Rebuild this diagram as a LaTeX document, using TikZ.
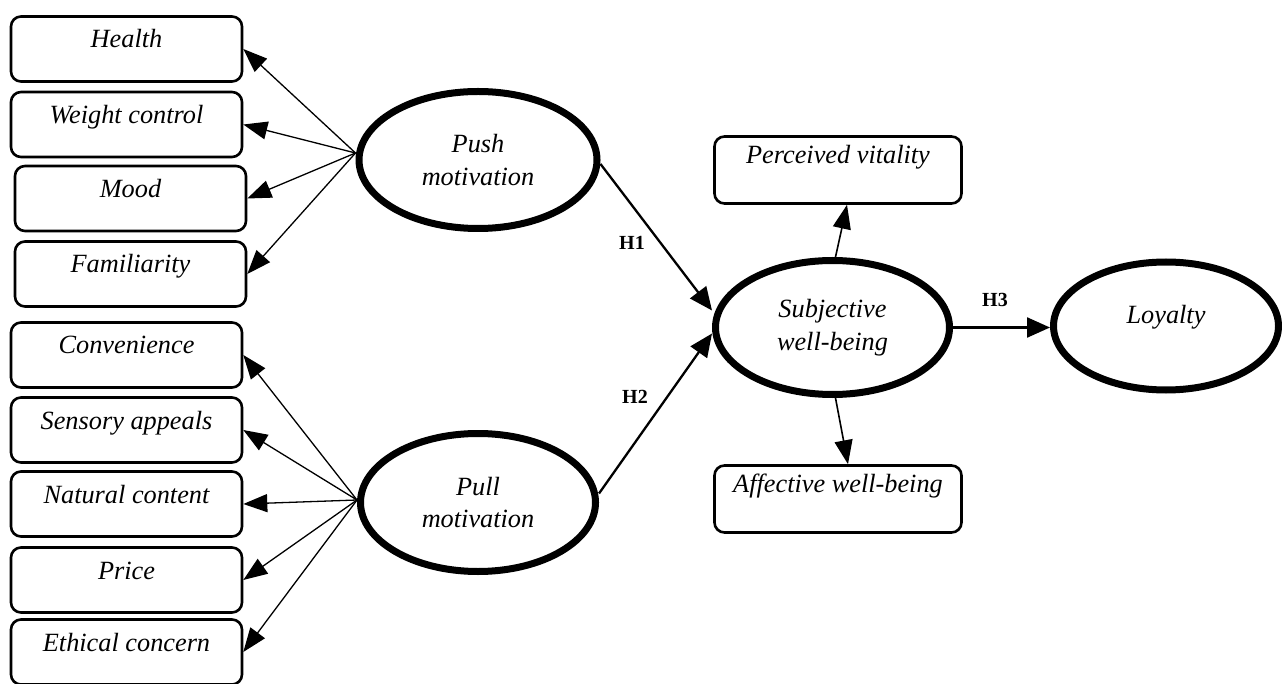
\documentclass[tikz,border=0pt]{standalone}
\usepackage{fontspec}
\setmainfont{Liberation Serif}
\usetikzlibrary{arrows.meta,shapes.geometric}
\begin{document}
\begin{tikzpicture}[x=1pt,y=-1pt,
  txt/.style={font=\fontsize{26.3}{32.5}\selectfont\itshape},
  lbox/.style={txt,draw,line width=2.6pt,rounded corners=10pt,minimum width=231pt,minimum height=65pt,inner sep=0pt,text height=18pt,text depth=20pt},
  rbox/.style={lbox,minimum width=247pt,minimum height=67pt,text depth=31pt},
  lat/.style={txt,draw,ellipse,line width=7pt,inner sep=0pt,align=center},
  thinarr/.style={-{Triangle[length=24pt,width=18pt]},line width=1.3pt},
  midarr/.style={-{Triangle[length=24pt,width=18pt]},line width=1.6pt},
  hyparr/.style={-{Triangle[length=23pt,width=20pt]},line width=2.3pt},
  hlab/.style={font=\fontsize{20}{21}\selectfont\bfseries,inner sep=0pt}]
\useasboundingbox (0,0) rectangle (1282,684);

% left indicator boxes
\node[lbox] (health) at (126.5,49) {Health};
\node[lbox] (weight) at (126.5,124.5) {Weight control};
\node[lbox] (mood) at (130.5,198.5) {Mood};
\node[lbox] (famil) at (130.5,274) {Familiarity};
\node[lbox] (conv) at (126.5,355) {Convenience};
\node[lbox] (sens) at (126.5,430) {Sensory appeals};
\node[lbox] (natur) at (126.5,504) {Natural content};
\node[lbox] (price) at (126.5,580) {Price};
\node[lbox] (ethic) at (126.5,652) {Ethical concern};

% latent constructs
\node[lat,minimum width=238pt,minimum height=137pt] (push) at (478,160) {Push\\motivation};
\node[lat,minimum width=235pt,minimum height=138pt] (pull) at (478,502.5) {Pull\\motivation};
\node[lat,minimum width=234pt,minimum height=134pt] (subj) at (832.5,327.5) {Subjective\\well-being};
\node[lat,minimum width=225pt,minimum height=128pt,text height=18pt,text depth=23pt] (loyal) at (1166,326) {Loyalty};

% right indicator boxes
\node[rbox] (perc) at (838,170) {Perceived vitality};
\node[rbox] (affect) at (838,499) {Affective well-being};

% push indicators
\foreach \t in {health,weight,mood,famil}
  \draw[thinarr] ([yshift=7pt]push.west) -- (\t.east);
% pull indicators
\foreach \t in {conv,sens,natur,price,ethic}
  \draw[thinarr] ([yshift=2.5pt]pull.west) -- (\t.east);

% subjective well-being indicators
\draw[midarr] ([xshift=3pt]subj.north) -- ([xshift=9pt]perc.south);
\draw[midarr] ([xshift=3pt]subj.south) -- ([xshift=10pt]affect.north);

% hypotheses
\draw[hyparr] ([yshift=-4pt]push.east) -- ([yshift=17pt]subj.west);
\draw[hyparr] ([yshift=9pt]pull.east) -- ([yshift=-6pt]subj.west);
\draw[hyparr] (subj.east) -- (subj.east -| loyal.west);

\node[hlab] (h1) at (632,243) {H1};
\node[hlab] (h2) at (635,397) {H2};
\node[hlab] (h3) at (995,300) {H3};
\end{tikzpicture}
\end{document}
